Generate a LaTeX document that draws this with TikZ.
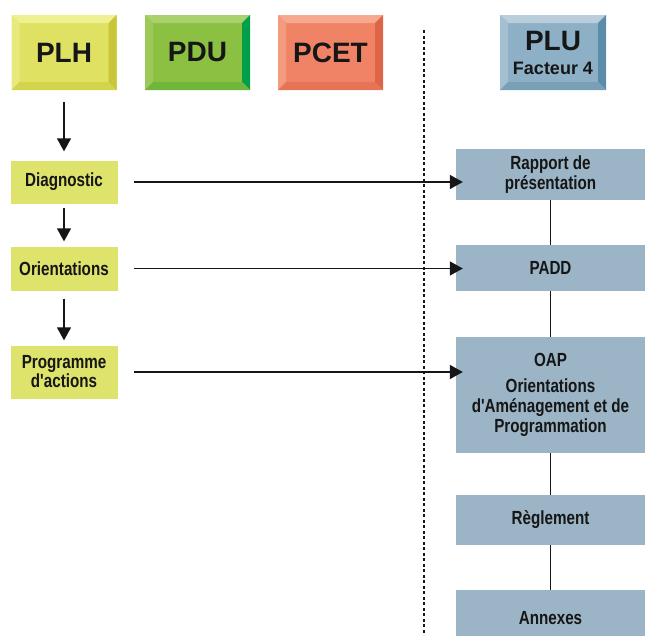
\documentclass[tikz,border=0pt]{standalone}
\usepackage{fontspec}
\setmainfont{Liberation Sans}
\newfontfamily\narrowfont[FakeStretch=0.8]{Liberation Sans}
\usepackage{tikz}
\usetikzlibrary{arrows.meta, positioning, calc}
\definecolor{plhface}{HTML}{DFE163}
\definecolor{plhtop}{HTML}{EEF091}
\definecolor{plhleft}{HTML}{E7E97C}
\definecolor{plhright}{HTML}{C9C63A}
\definecolor{plhbot}{HTML}{D3D44C}
\definecolor{pduface}{HTML}{8CC043}
\definecolor{pdutop}{HTML}{AAD26C}
\definecolor{pduleft}{HTML}{9CC958}
\definecolor{pduright}{HTML}{00A04A}
\definecolor{pdubot}{HTML}{6FB63A}
\definecolor{pcetface}{HTML}{F08365}
\definecolor{pcettop}{HTML}{F6A98F}
\definecolor{pcetleft}{HTML}{F39B7F}
\definecolor{pcetright}{HTML}{DF6549}
\definecolor{pcetbot}{HTML}{E87458}
\definecolor{pluface}{HTML}{8DB0C6}
\definecolor{plutop}{HTML}{B9CEDA}
\definecolor{pluleft}{HTML}{A4BFD0}
\definecolor{pluright}{HTML}{5B8DAA}
\definecolor{plubot}{HTML}{7AA0B8}
\definecolor{stepfill}{HTML}{DDE36B}
\definecolor{docfill}{HTML}{9BB5C6}
\definecolor{inkdark}{HTML}{161616}

\begin{document}
\begin{tikzpicture}[
  x=1pt, y=-1pt,
  header/.style n args={5}{
    rectangle, inner sep=0pt,
    minimum width=105pt, minimum height=75pt,
    fill=#1, align=center, text=inkdark,
    font=\bfseries\fontsize{28}{24}\selectfont,
    path picture={
      \fill[#2] (path picture bounding box.north west) -- (path picture bounding box.north east)
        -- ([shift={(-8pt,-8pt)}]path picture bounding box.north east)
        -- ([shift={(8pt,-8pt)}]path picture bounding box.north west) -- cycle;
      \fill[#3] (path picture bounding box.north west) -- ([shift={(8pt,-8pt)}]path picture bounding box.north west)
        -- ([shift={(8pt,8pt)}]path picture bounding box.south west)
        -- (path picture bounding box.south west) -- cycle;
      \fill[#4] (path picture bounding box.north east) -- ([shift={(-8pt,-8pt)}]path picture bounding box.north east)
        -- ([shift={(-8pt,8pt)}]path picture bounding box.south east)
        -- (path picture bounding box.south east) -- cycle;
      \fill[#5] (path picture bounding box.south west) -- ([shift={(8pt,8pt)}]path picture bounding box.south west)
        -- ([shift={(-8pt,8pt)}]path picture bounding box.south east)
        -- (path picture bounding box.south east) -- cycle;
    }
  },
  stepbox/.style={
    rectangle, inner sep=0pt,
    minimum width=107pt, fill=stepfill,
    align=center, text=inkdark,
    font=\narrowfont\bfseries\fontsize{19}{19}\selectfont
  },
  docbox/.style={
    rectangle, inner sep=0pt,
    minimum width=189pt, fill=docfill,
    align=center, text=inkdark,
    font=\narrowfont\bfseries\fontsize{19}{20}\selectfont
  },
  arrow/.style={-{Triangle[length=13pt, width=14pt]}, line width=1.6pt, color=inkdark},
  link/.style={line width=1.5pt, color=inkdark}
]
\useasboundingbox (0,0) rectangle (645,635);

% Headers
\node[header={plhface}{plhtop}{plhleft}{plhright}{plhbot}] (plh) at (64,52.5) {PLH};
\node[header={pduface}{pdutop}{pduleft}{pduright}{pdubot}] (pdu) at (197.5,52.5) {PDU};
\node[header={pcetface}{pcettop}{pcetleft}{pcetright}{pcetbot}] (pcet) at (330.5,52.5) {PCET};
\node[header={pluface}{plutop}{pluleft}{pluright}{plubot}, minimum width=106pt] (plu) at (553,52.5)
  {PLU\\{\fontsize{18}{24}\selectfont Facteur 4}};

% Divider
\coordinate (divtop) at (424,30);
\coordinate (divbot) at (424,635);
\draw[line width=1.3pt, dash pattern=on 3pt off 2.5pt, color=inkdark] (divtop) -- (divbot);

% PLH steps
\node[stepbox, minimum height=43pt] (diag) at (64,182) {Diagnostic};
\node[stepbox, minimum height=44pt] (orient) at (64,268.5) {Orientations};
\node[stepbox, minimum height=53pt] (prog) at (64,372) {Programme\\d'actions};

% PLU documents
\node[docbox, minimum height=51pt] (rap) at (550.5,174.5) {Rapport de\\présentation};
\node[docbox, minimum height=46pt] (padd) at (550.5,268) {PADD};
\node[docbox, minimum height=116pt] (oap) at (550.5,395)
  {OAP\\[6pt]Orientations\\d'Aménagement et de\\Programmation};
\node[docbox, minimum height=50pt] (regl) at (550.5,520) {Règlement};
\node[docbox, minimum height=56pt] (annex) at (550.5,618) {Annexes};

% Vertical arrows
\draw[arrow, shorten <=12pt, shorten >=9pt] (plh) -- (diag);
\draw[arrow, shorten <=4pt, shorten >=5pt] (diag) -- (orient);
\draw[arrow, shorten <=8pt, shorten >=5pt] (orient) -- (prog);

% Links to PLU
\draw[arrow, shorten <=16pt, shorten >=-7pt] (diag.east) -- (diag.east -| rap.west);
\draw[arrow, shorten <=16pt, shorten >=-7pt] (orient.east) -- (orient.east -| padd.west);
\draw[arrow, shorten <=16pt, shorten >=-7pt] (prog.east) -- (prog.east -| oap.west);

% PLU chain
\draw[link] (rap) -- (padd);
\draw[link] (padd) -- (oap);
\draw[link] (oap) -- (regl);
\draw[link] (regl) -- (annex);

\end{tikzpicture}
\end{document}
